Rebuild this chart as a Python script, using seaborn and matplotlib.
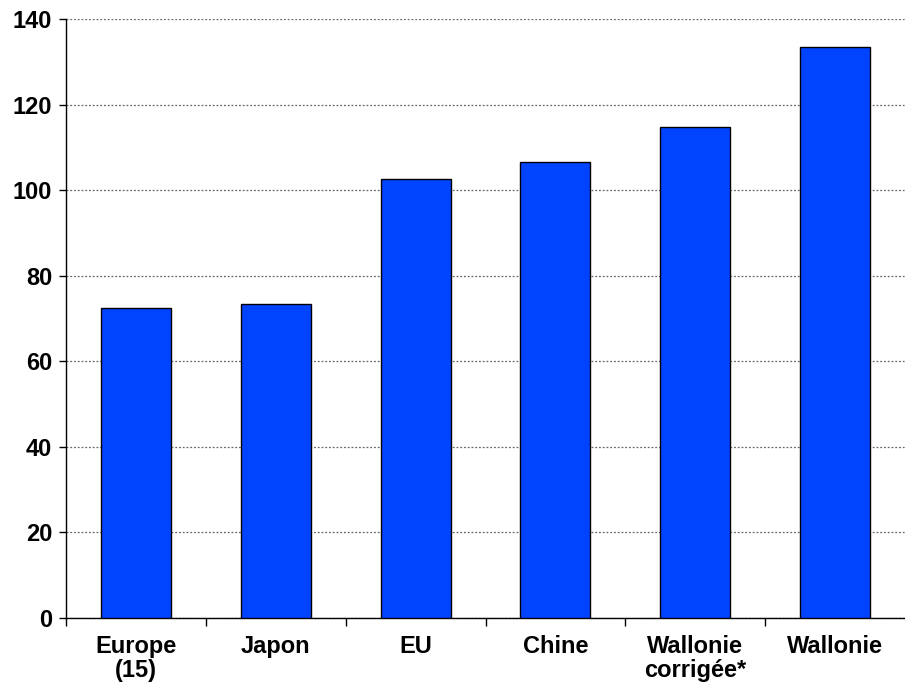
import matplotlib
matplotlib.use("Agg")
import matplotlib.pyplot as plt
import seaborn as sns
import pandas as pd
import numpy as np

categories = ["Europe\n(15)", "Japon", "EU", "Chine", "Wallonie\ncorrigée*", "Wallonie"]
values = [72.5, 73.5, 102.7, 106.6, 114.8, 133.5]
yticks = [0, 20, 40, 60, 80, 100, 120, 140]

sns.set_theme(style="white")
plt.rcParams['font.family'] = ['Liberation Sans', 'DejaVu Sans']
plt.rcParams['text.color'] = 'black'
plt.rcParams['xtick.color'] = 'black'
plt.rcParams['ytick.color'] = 'black'
plt.rcParams['xtick.bottom'] = True
plt.rcParams['ytick.left'] = True

df = pd.DataFrame({"cat": categories, "val": values})

fig = plt.figure(figsize=(9.05, 6.84), dpi=100)
ax = fig.add_axes([66/905, 1-618/684, 1-66/905, (618-19)/684])

sns.barplot(data=df, x="cat", y="val", color="#0044FF", saturation=1,
            width=0.5, edgecolor="black", linewidth=1, ax=ax, zorder=3)

ax.set_ylim(0, 140)
ax.set_xlim(-0.5, len(categories) - 0.5)
ax.set_yticks(yticks)
ax.set_yticklabels([str(t) for t in yticks], fontsize=17, fontweight="bold")
ax.yaxis.grid(True, linestyle=(0, (1.5, 1.5)), color="#666666", linewidth=0.9)
ax.set_axisbelow(True)

ax.set_xticks(np.arange(len(categories)))
ax.set_xticklabels(categories, fontsize=17, fontweight="bold", va="top", linespacing=1.1)
ax.tick_params(axis="x", which="major", length=0, pad=12)
ax.set_xticks(np.arange(len(categories)) - 0.5, minor=True)
ax.tick_params(axis="x", which="minor", bottom=True, length=6, width=1, color="black", direction="out")
ax.tick_params(axis="y", length=5, width=1, color="black", direction="out", left=True, pad=5)

for s in ["top", "right"]:
    ax.spines[s].set_visible(False)
for s in ["left", "bottom"]:
    ax.spines[s].set_color("black")
    ax.spines[s].set_linewidth(1)

ax.set_xlabel("")
ax.set_ylabel("")

fig.savefig("out.png", dpi=100)
